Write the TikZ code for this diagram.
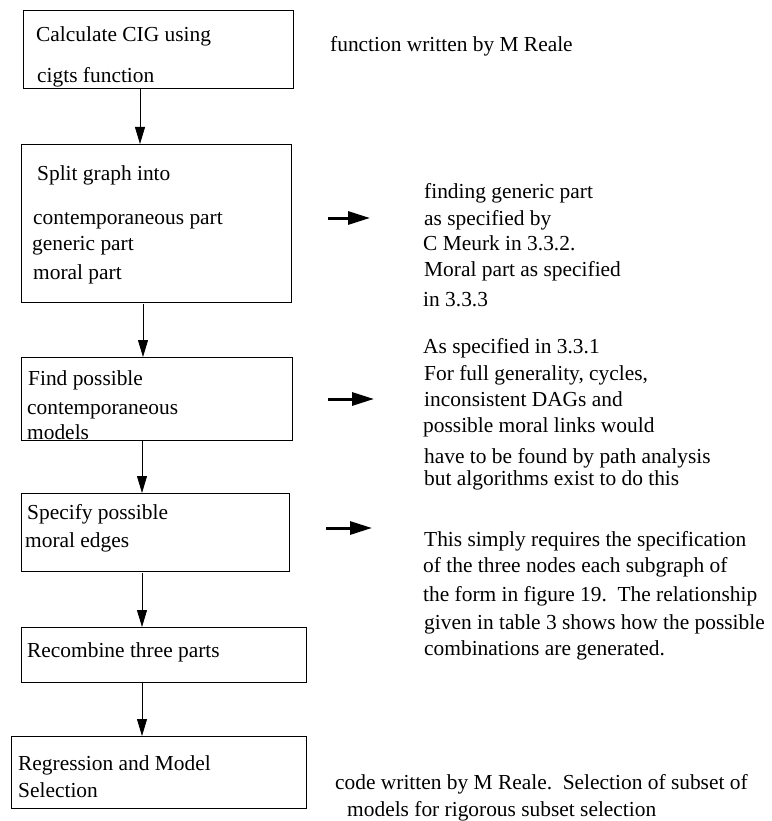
\documentclass[tikz,border=0pt]{standalone}
\usepackage{fontspec}
\setmainfont{Liberation Serif}
\usetikzlibrary{arrows.meta}
\begin{document}
\begin{tikzpicture}[x=1pt,y=-1pt,
  box/.style={draw, line width=0.9pt, inner sep=0pt, outer sep=0pt},
  txt/.style={anchor=base west, inner sep=0pt, font=\fontsize{21.4}{25}\selectfont},
  flow/.style={line width=0.8pt, -{Triangle[length=17pt,width=10pt]}},
  bigarrow/.style={line width=3pt, -{Triangle[length=22pt,width=13pt]}}]
\useasboundingbox (0,0) rectangle (771,821);
% boxes
\node[box, minimum width=270pt, minimum height=78pt] (b1) at (158,49) {};
\node[box, minimum width=270pt, minimum height=158pt] (b2) at (156,223) {};
\node[box, minimum width=271pt, minimum height=83pt] (b3) at (156.5,398.5) {};
\node[box, minimum width=268pt, minimum height=78pt] (b4) at (155,532) {};
\node[box, minimum width=285pt, minimum height=55pt] (b5) at (163.5,654.5) {};
\node[box, minimum width=295pt, minimum height=72pt] (b6) at (158.5,772) {};
% flow arrows
\coordinate (x1) at (140,0);
\coordinate (x2) at (143,0);
\coordinate (x3) at (142,0);
\draw[flow] (b1.south -| x1) -- (b2.north -| x1);
\draw[flow] ([yshift=-2pt]b2.south -| x2) -- (b3.north -| x2);
\draw[flow] (b3.south -| x3) -- (b4.north -| x3);
\draw[flow] ([yshift=-2pt]b4.south -| x3) -- (b5.north -| x3);
\draw[flow] (b5.south -| x3) -- (b6.north -| x3);
% box texts
\node[txt] (t11) at (36,42) {Calculate CIG using};
\node[txt] (t12) at (37,83) {cigts function};
\node[txt] (t21) at (37,180) {Split graph into};
\node[txt] (t22) at (33,224) {contemporaneous part};
\node[txt] (t23) at (32,250) {generic part};
\node[txt] (t24) at (33,279) {moral part};
\node[txt] (t31) at (28,385) {Find possible};
\node[txt] (t32) at (27,414) {contemporaneous};
\node[txt] (t33) at (27,439) {models};
\node[txt] (t41) at (27,519) {Specify possible};
\node[txt] (t42) at (25,547) {moral edges};
\node[txt] (t51) at (27,657) {Recombine three parts};
\node[txt] (t61) at (18,770) {Regression and Model};
\node[txt] (t62) at (18,797) {Selection};
% side arrows
\coordinate (a1s) at (328,218); \coordinate (a1e) at (370,218);
\coordinate (a2s) at (328,399); \coordinate (a2e) at (374,399);
\coordinate (a3s) at (326,528); \coordinate (a3e) at (372,528);
\draw[bigarrow] (a1s) -- (a1e);
\draw[bigarrow] (a2s) -- (a2e);
\draw[bigarrow] (a3s) -- (a3e);
% side texts
\node[txt] (r1) at (330,52) {function written by M Reale};
\node[txt] (ra1) at (424,198) {finding generic part};
\node[txt] (ra2) at (424,225) {as specified by};
\node[txt] (ra3) at (423,250) {C Meurk in 3.3.2.};
\node[txt] (ra4) at (424,276) {Moral part as specified};
\node[txt] (ra5) at (423,306) {in 3.3.3};
\node[txt] (rb1) at (423,353) {As specified in 3.3.1};
\node[txt] (rb2) at (424,380) {For full generality, cycles,};
\node[txt] (rb3) at (424,406) {inconsistent DAGs and};
\node[txt] (rb4) at (423,432) {possible moral links would};
\node[txt] (rb5) at (424,463) {have to be found by path analysis};
\node[txt] (rb6) at (424,485) {but algorithms exist to do this};
\node[txt] (rc1) at (424,546) {This simply requires the specification};
\node[txt] (rc2) at (423,572) {of the three nodes each subgraph of};
\node[txt] (rc3) at (423,601) {the form in figure 19.\ \ The relationship};
\node[txt] (rc4) at (424,629) {given in table 3 shows how the possible};
\node[txt] (rc5) at (424,655) {combinations are generated.};
\node[txt] (rd1) at (335,789) {code written by M Reale.\ \ Selection of subset of};
\node[txt] (rd2) at (347,816) {models for rigorous subset selection};
\end{tikzpicture}
\end{document}
